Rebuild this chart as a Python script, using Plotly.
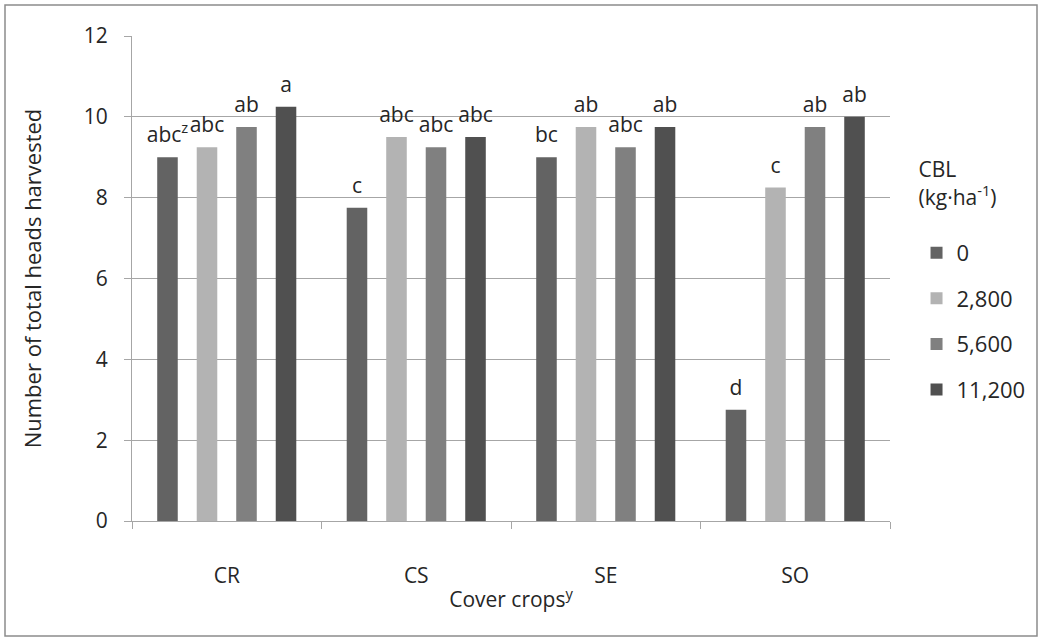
import plotly.graph_objects as go

categories = ["CR", "CS", "SE", "SO"]
series_names = ["0", "2,800", "5,600", "11,200"]
values = {
    "0": [9.0, 7.75, 9.0, 2.75],
    "2,800": [9.25, 9.5, 9.75, 8.25],
    "5,600": [9.75, 9.25, 9.25, 9.75],
    "11,200": [10.25, 9.5, 9.75, 10.0],
}
letters = {
    "0": ["abc<sup>z</sup>", "c", "bc", "d"],
    "2,800": ["abc", "abc", "ab", "c"],
    "5,600": ["ab", "abc", "abc", "ab"],
    "11,200": ["a", "abc", "ab", "ab"],
}
colors = {"0": "#636363", "2,800": "#b3b3b3", "5,600": "#808080", "11,200": "#505050"}

FONT = "Open Sans"
TXT = "#262626"
GRID = "#a6a6a6"
GAP = 0.166

fig = go.Figure()
for i, name in enumerate(series_names):
    fig.add_trace(go.Bar(
        x=categories, y=values[name], name=name,
        marker=dict(color=colors[name], line=dict(width=0)),
        legendgroup=f"g{i}", offsetgroup=f"o{i}",
    ))
# significance letters placed above each bar (grouped scatter aligned with bars)
for i, name in enumerate(series_names):
    fig.add_trace(go.Scatter(
        x=categories, y=values[name], mode="markers+text",
        text=letters[name], textposition="top center",
        marker=dict(size=14, color="rgba(0,0,0,0)"),
        textfont=dict(family=FONT, size=21, color=TXT),
        cliponaxis=False, showlegend=False, hoverinfo="skip",
        offsetgroup=f"o{i}",
    ))

fig.update_layout(
    width=1043, height=641,
    margin=dict(l=132, r=153, t=36, b=120),
    paper_bgcolor="white", plot_bgcolor="white",
    barmode="group", bargap=GAP, bargroupgap=0.48,
    scattermode="group", scattergap=GAP,
    font=dict(family=FONT, size=21, color=TXT),
    showlegend=True,
    legend=dict(
        title=dict(text="CBL<br>(kg·ha<sup>-1</sup>)<br> ", font=dict(family=FONT, size=21, color=TXT)),
        x=1.035, xanchor="left", y=0.765, yanchor="top",
        tracegroupgap=14, font=dict(family=FONT, size=22, color=TXT),
        bgcolor="rgba(0,0,0,0)",
    ),
    xaxis=dict(
        showline=True, linecolor=GRID, linewidth=1,
        ticks="outside", tickson="boundaries", ticklen=7, tickcolor=GRID,
        ticklabelstandoff=36,
        tickfont=dict(family=FONT, size=21, color=TXT),
        title=dict(text="Cover crops<sup>y</sup>", font=dict(family=FONT, size=21, color=TXT), standoff=4),
    ),
    yaxis=dict(
        range=[0, 12], dtick=2, showgrid=True, gridcolor=GRID, gridwidth=1,
        showline=True, linecolor=GRID, linewidth=1, zeroline=False,
        ticks="outside", ticklen=7, tickcolor=GRID, ticklabelstandoff=12,
        tickfont=dict(family=FONT, size=21, color=TXT),
        title=dict(text="Number of total heads harvested", font=dict(family=FONT, size=22, color=TXT), standoff=36),
    ),
)

# outer chart border
fig.add_shape(type="rect", xref="paper", yref="paper",
              x0=-127/758, x1=(1037-132)/758, y0=(521-636)/485, y1=(521-5)/485,
              line=dict(color="#8c8c8c", width=1.5), fillcolor="rgba(0,0,0,0)", layer="below")

fig.write_html("out.html", config={"displayModeBar": False},
               post_script="document.body.style.margin='0';document.body.style.overflow='hidden';")
